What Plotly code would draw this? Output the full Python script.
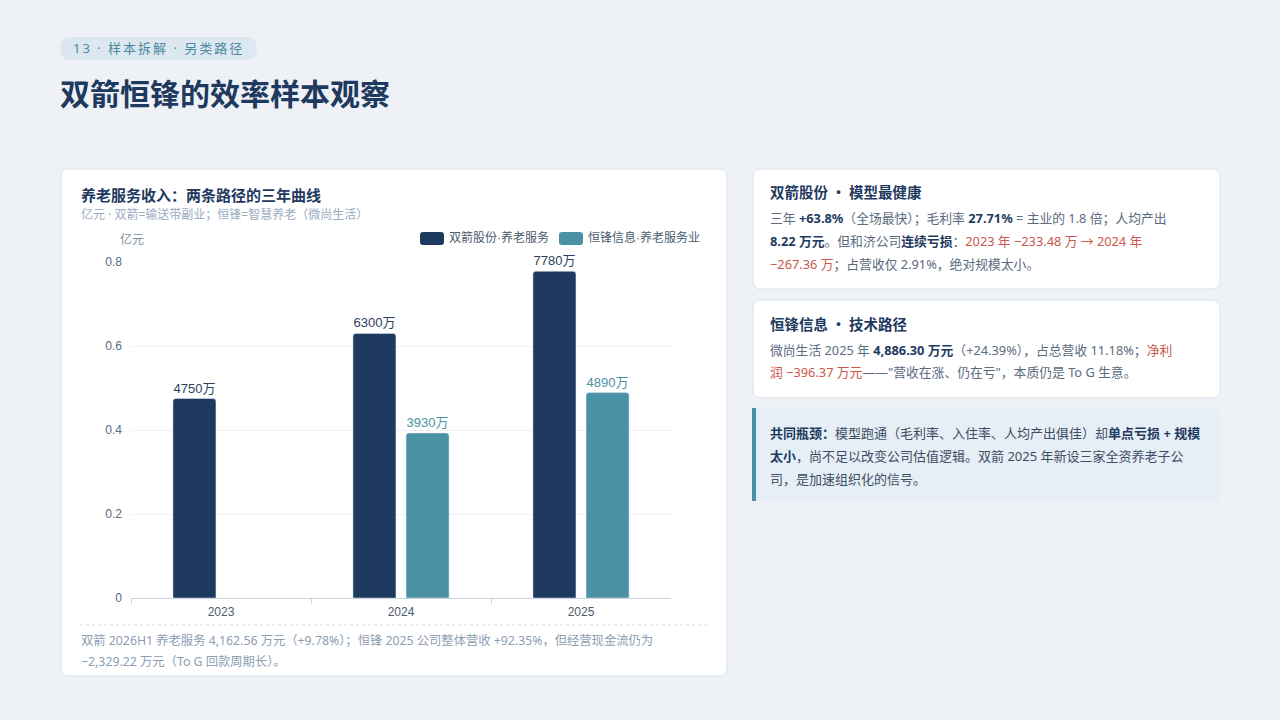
import plotly.graph_objects as go

# ---------------- data ----------------
years = ["2023", "2024", "2025"]
shuangjian = [0.475, 0.630, 0.778]          # 亿元
hengfeng = [None, 0.393, 0.489]             # 亿元
shuangjian_labels = ["4750万", "6300万", "7780万"]
hengfeng_labels = ["", "3930万", "4890万"]
series_names = ["双箭股份·养老服务", "恒锋信息·养老服务业"]
y_ticks = [0, 0.2, 0.4, 0.6, 0.8]
y_tick_text = ["0", "0.2", "0.4", "0.6", "0.8"]

# ---------------- style ----------------
W, H = 1280, 720
BG = "#eef2f7"
NAVY = "#1f3a5f"
TEAL = "#4a91a6"
RED = "#c9574a"
GRAY = "#5b6b80"
LIGHT = "#8d9db2"
CJK = "Noto Sans CJK SC"
BODY = "Noto Sans, Noto Sans CJK SC"
CHART_FONT = "Liberation Sans, Noto Sans CJK SC"


def px(x):
    return x / W


def py(y):
    return 1 - y / H


def rrect(x0, y0, x1, y1, r, fill, line=None, lw=1):
    X0, X1 = px(x0), px(x1)
    Y0, Y1 = py(y0), py(y1)
    rx, ry = r / W, r / H
    path = (f"M {X0+rx},{Y0} L {X1-rx},{Y0} Q {X1},{Y0} {X1},{Y0-ry} "
            f"L {X1},{Y1+ry} Q {X1},{Y1} {X1-rx},{Y1} L {X0+rx},{Y1} "
            f"Q {X0},{Y1} {X0},{Y1+ry} L {X0},{Y0-ry} Q {X0},{Y0} {X0+rx},{Y0} Z")
    return dict(type="path", xref="paper", yref="paper", path=path,
                fillcolor=fill, line=dict(color=line or fill, width=lw if line else 0),
                layer="below")


fig = go.Figure()

fig.add_trace(go.Bar(
    x=years, y=shuangjian, name=series_names[0],
    marker=dict(color=NAVY, cornerradius=3),
    text=shuangjian_labels, textposition="outside", cliponaxis=False,
    textfont=dict(family=CHART_FONT, size=13, color="#2b3f5c"),
    hoverinfo="skip", showlegend=False,
))
fig.add_trace(go.Bar(
    x=years, y=hengfeng, name=series_names[1],
    marker=dict(color=TEAL, cornerradius=3),
    text=hengfeng_labels, textposition="outside", cliponaxis=False,
    textfont=dict(family=CHART_FONT, size=13, color=TEAL),
    hoverinfo="skip", showlegend=False,
))

shapes = []
# cards
shapes.append(rrect(61, 169, 727, 676, 8, "#ffffff", "#dbe3ec"))
shapes.append(rrect(753, 169, 1220, 289, 8, "#ffffff", "#dbe3ec"))
shapes.append(rrect(753, 300, 1220, 398, 8, "#ffffff", "#dbe3ec"))
shapes.append(rrect(753, 408, 1220, 501, 4, "#e6eef6"))
shapes.append(dict(type="rect", xref="paper", yref="paper", x0=px(752), x1=px(756),
                   y0=py(501), y1=py(408), fillcolor=TEAL, line=dict(width=0), layer="below"))
# pill
shapes.append(rrect(60, 37, 257, 60, 11.5, "#dce7ef"))
# dotted separator
shapes.append(dict(type="line", xref="paper", yref="paper", x0=px(80), x1=px(710),
                   y0=py(625), y1=py(625), line=dict(color="#d5dee8", width=1.2, dash="dot")))
# legend swatches
shapes.append(rrect(420, 232, 444, 245, 3, NAVY))
shapes.append(rrect(559, 232, 583, 245, 3, TEAL))

ann = []


def text(x, y, s, size=13, color=GRAY, family=BODY, xanchor="left"):
    ann.append(dict(x=px(x), y=py(y), xref="paper", yref="paper", text=s, showarrow=False,
                    xanchor=xanchor, yanchor="middle", align="left",
                    font=dict(family=family, size=size, color=color)))


# header
text(71, 48, "<span style='letter-spacing:2px'>13 · 样本拆解 · 另类路径</span>", 13, "#4a8aa0")
text(58, 92, "<b>双箭恒锋的效率样本观察</b>", 30, NAVY, CJK)

# chart card texts
text(79, 195, "<b>养老服务收入：两条路径的三年曲线</b>", 15, NAVY, CJK)
text(79, 214, "亿元 · 双箭=输送带副业；恒锋=智慧养老（微尚生活）", 12, "#9aabbf")
text(118, 240, "亿元", 12, "#7d8da2", CHART_FONT)
text(447, 238, series_names[0], 12, "#4a5a6e", CHART_FONT)
text(586, 238, series_names[1], 12, "#4a5a6e", CHART_FONT)
text(79, 640, "双箭 2026H1 养老服务 4,162.56 万元（+9.78%）；恒锋 2025 公司整体营收 +92.35%，但经营现金流仍为", 12.3, LIGHT)
text(79, 661, "−2,329.22 万元（To G 回款周期长）。", 12.3, LIGHT)


def b(s):
    return f"<b><span style='color:{NAVY}'>{s}</span></b>"


def r(s):
    return f"<span style='color:{RED}'>{s}</span>"


# card 1
text(768, 192, "<b>双箭股份 • 模型最健康</b>", 14.5, NAVY, CJK)
text(768, 218, f"三年 {b('+63.8%')}（全场最快）；毛利率 {b('27.71%')} = 主业的 1.8 倍；人均产出", 12.8, GRAY)
text(768, 241, f"{b('8.22 万元')}。但和济公司{b('连续亏损')}：{r('2023 年 −233.48 万 → 2024 年')}", 12.8, GRAY)
text(768, 264, f"{r('−267.36 万')}；占营收仅 2.91%，绝对规模太小。", 12.8, GRAY)

# card 2
text(768, 324, "<b>恒锋信息 • 技术路径</b>", 14.5, NAVY, CJK)
text(768, 350, f"微尚生活 2025 年 {b('4,886.30 万元')}（+24.39%），占总营收 11.18%；{r('净利')}", 12.8, GRAY)
text(768, 372, f"{r('润 −396.37 万元')}——\"营收在涨、仍在亏\"，本质仍是 To G 生意。", 12.8, GRAY)

# card 3
text(768, 433, f"{b('共同瓶颈：')}模型跑通（毛利率、入住率、人均产出俱佳）却{b('单点亏损 + 规模')}", 13, "#3d4d63")
text(768, 456, f"{b('太小')}，尚不足以改变公司估值逻辑。双箭 2025 年新设三家全资养老子公", 13, "#3d4d63")
text(768, 479, "司，是加速组织化的信号。", 13, "#3d4d63")

fig.update_layout(
    width=W, height=H, autosize=False,
    margin=dict(l=0, r=0, t=0, b=0, pad=0, autoexpand=False),
    paper_bgcolor=BG, plot_bgcolor="rgba(0,0,0,0)",
    barmode="group", bargap=0.41, bargroupgap=0.19,
    shapes=shapes, annotations=ann,
    showlegend=False,
    xaxis=dict(domain=[px(131), px(671)], type="category", showgrid=False, automargin=False,
               showline=True, linecolor="#c9d4df", linewidth=1,
               ticks="outside", tickson="boundaries", ticklen=5, tickcolor="#c9d4df",
               ticklabelstandoff=3,
               tickfont=dict(family=CHART_FONT, size=12, color="#4a5a6e"), fixedrange=True),
    yaxis=dict(domain=[py(598), py(262)], range=[0, 0.8], tickvals=y_ticks, ticktext=y_tick_text,
               showgrid=True, gridcolor="#edf1f6", gridwidth=1, zeroline=False, showline=False,
               ticks="", ticklabelstandoff=8, automargin=False,
               tickfont=dict(family=CHART_FONT, size=12, color="#5b6b80"), fixedrange=True),
    font=dict(family=CJK),
)

fig.write_html(
    "out.html",
    config={"displayModeBar": False},
    post_script="document.body.style.margin='0';document.body.style.overflow='hidden';",
)
